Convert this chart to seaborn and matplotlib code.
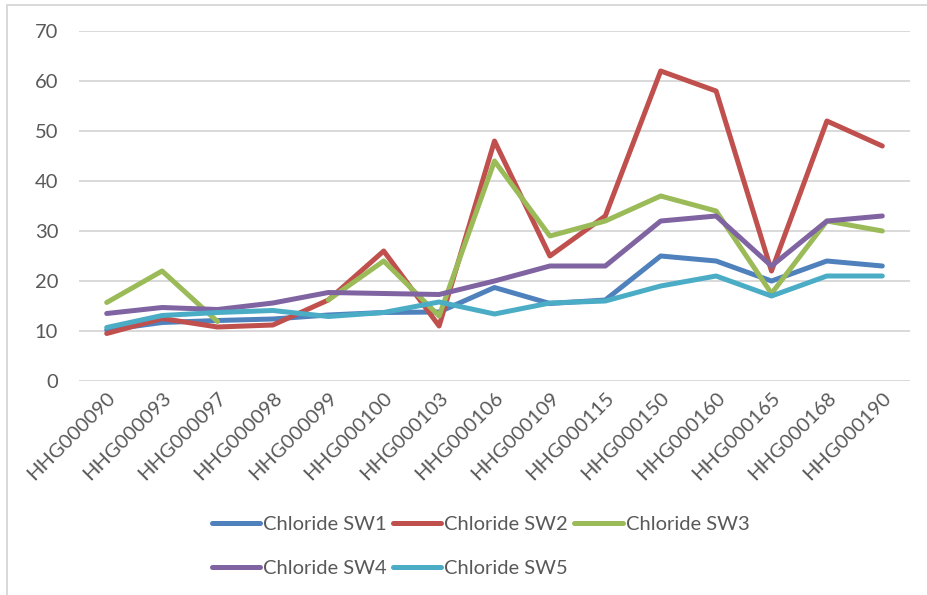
import numpy as np
import pandas as pd
import seaborn as sns
import matplotlib.pyplot as plt
from matplotlib.lines import Line2D

# sample ids along the x axis
categories = ["HHG000090", "HHG000093", "HHG000097", "HHG000098", "HHG000099",
              "HHG000100", "HHG000103", "HHG000106", "HHG000109", "HHG000115",
              "HHG000150", "HHG000160", "HHG000165", "HHG000168", "HHG000190"]

series_names = ["Chloride SW1", "Chloride SW2", "Chloride SW3", "Chloride SW4", "Chloride SW5"]

sw1 = [10.2, 11.7, 12.1, 12.4, 13.2, 13.7, 13.8, 18.7, 15.5, 16.2, 25, 24, 20, 24, 23]
sw2 = [9.5, 12.5, 10.8, 11.2, 16.2, 26, 11, 48, 25, 33, 62, 58, 22, 52, 47]
sw3 = [15.7, 22, 11.9, np.nan, 16.2, 24, 13, 44, 29, 32, 37, 34, 17.5, 32, 30]
sw4 = [13.5, 14.7, 14.3, 15.6, 17.7, 17.5, 17.3, 20, 23, 23, 32, 33, 23, 32, 33]
sw5 = [10.7, 13.1, 13.7, 14.1, 12.9, 13.7, 15.8, 13.4, 15.6, 16, 19, 21, 17, 21, 21]

colors = ["#4F81BD", "#C0504D", "#9BBB59", "#8064A2", "#4BACC6"]

# long form table; a missing value starts a new segment so the line has a gap
rows = []
for name, values in zip(series_names, [sw1, sw2, sw3, sw4, sw5]):
    seg = 0
    for cat, v in zip(categories, values):
        if np.isnan(v):
            seg += 1
            continue
        rows.append({"Sample": cat, "Chloride": v, "Series": name, "Segment": seg})
df = pd.DataFrame(rows)

sns.set_style("white")
plt.rcParams["font.family"] = ["Lato", "DejaVu Sans"]
text_color = "#595959"
grid_color = "#D9D9D9"

fig = plt.figure(figsize=(9.27, 5.95), dpi=100)
ax = fig.add_axes([79 / 927, 1 - 381 / 595, 831 / 927, 350 / 595])

sns.lineplot(data=df, x="Sample", y="Chloride", hue="Series", units="Segment",
             estimator=None, palette=colors, hue_order=series_names,
             linewidth=3.6, solid_capstyle="round", solid_joinstyle="round",
             sort=False, legend=False, ax=ax)

ax.set_xlim(-0.5, len(categories) - 0.5)
ax.set_ylim(0, 70)
ax.set_yticks(range(0, 71, 10))
ax.yaxis.grid(True, color=grid_color, linewidth=1.4)
ax.set_axisbelow(True)
for s in ax.spines.values():
    s.set_visible(False)
ax.set_xlabel("")
ax.set_ylabel("")
ax.tick_params(axis="both", length=0, colors=text_color, labelsize=14.5)
ax.tick_params(axis="y", pad=15)
ax.tick_params(axis="x", pad=6)
for lbl in ax.get_xticklabels():
    lbl.set_rotation(45)
    lbl.set_ha("right")
    lbl.set_rotation_mode("anchor")

# legend filled row by row (matplotlib fills by column, so reorder)
order = [0, 3, 1, 4, 2]
handles = [Line2D([], [], color=colors[i], linewidth=3.6, solid_capstyle="round") for i in order]
labels = [series_names[i] for i in order]
leg = fig.legend(handles, labels, loc="upper left", bbox_to_anchor=(212 / 927, 1 - 516 / 595),
                 ncol=3, frameon=False, fontsize=14.5, handlelength=2.4, handletextpad=0.15,
                 columnspacing=0.3, labelspacing=1.35, borderaxespad=0, borderpad=0)
for t in leg.get_texts():
    t.set_color(text_color)

# light chart-area border (left and top edges visible)
fig.add_artist(Line2D([7 / 927, 7 / 927], [0, 1 - 4.5 / 595], transform=fig.transFigure,
                      color=grid_color, linewidth=1.4))
fig.add_artist(Line2D([7 / 927, 1], [1 - 4.5 / 595, 1 - 4.5 / 595], transform=fig.transFigure,
                      color=grid_color, linewidth=1.4))

fig.savefig("out.png", dpi=100)
